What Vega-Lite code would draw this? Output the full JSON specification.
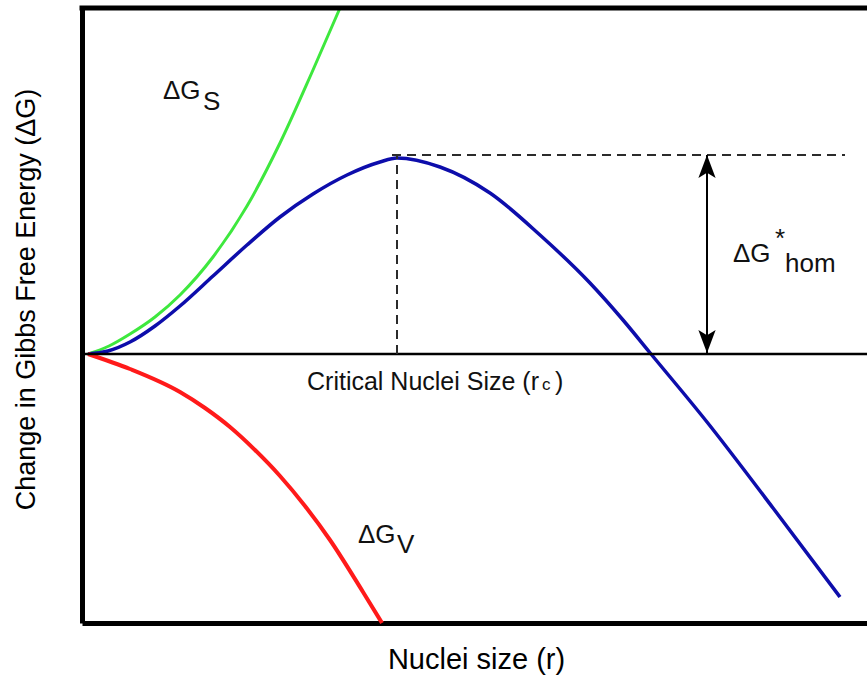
{
  "$schema": "https://vega.github.io/schema/vega-lite/v6.json",
  "width": 785,
  "height": 615,
  "autosize": {"type": "none"},
  "padding": {"left": 82, "top": 8, "right": 0, "bottom": 54},
  "background": "white",
  "config": {
    "view": {"stroke": null},
    "font": "Liberation Sans",
    "axis": {"grid": false, "ticks": false, "labels": false, "domain": true, "domainColor": "black", "domainWidth": 5, "titleFont": "Liberation Sans", "titleFontSize": 27, "titleFontWeight": "normal", "titleColor": "black", "titleAlign": "center", "titleBaseline": "alphabetic"},
    "axisX": {"titleX": 394, "titleY": 45, "titleFontSize": 29},
    "axisY": {"titleAngle": 270, "titleX": -48, "titleY": 291}
  },
  "datasets": {
    "curves": [
      {"curve": "surface", "r": 0, "G": 0},
      {"curve": "surface", "r": 21, "G": 8},
      {"curve": "surface", "r": 42, "G": 20},
      {"curve": "surface", "r": 67, "G": 37},
      {"curve": "surface", "r": 92, "G": 59},
      {"curve": "surface", "r": 125, "G": 97},
      {"curve": "surface", "r": 159, "G": 148},
      {"curve": "surface", "r": 192, "G": 211},
      {"curve": "surface", "r": 225, "G": 284},
      {"curve": "surface", "r": 252, "G": 346},
      {"curve": "total", "r": 0, "G": 0},
      {"curve": "total", "r": 20, "G": 3},
      {"curve": "total", "r": 42, "G": 12},
      {"curve": "total", "r": 67, "G": 28},
      {"curve": "total", "r": 92, "G": 48},
      {"curve": "total", "r": 125, "G": 78},
      {"curve": "total", "r": 159, "G": 109},
      {"curve": "total", "r": 192, "G": 137},
      {"curve": "total", "r": 225, "G": 160},
      {"curve": "total", "r": 259, "G": 179},
      {"curve": "total", "r": 292, "G": 192},
      {"curve": "total", "r": 309, "G": 196},
      {"curve": "total", "r": 352, "G": 187},
      {"curve": "total", "r": 402, "G": 161},
      {"curve": "total", "r": 452, "G": 119},
      {"curve": "total", "r": 502, "G": 71},
      {"curve": "total", "r": 535, "G": 34},
      {"curve": "total", "r": 563, "G": 0},
      {"curve": "total", "r": 619, "G": -68},
      {"curve": "total", "r": 685, "G": -154},
      {"curve": "total", "r": 752, "G": -243},
      {"curve": "volume", "r": 0, "G": 0},
      {"curve": "volume", "r": 42, "G": -15},
      {"curve": "volume", "r": 92, "G": -38},
      {"curve": "volume", "r": 117, "G": -54},
      {"curve": "volume", "r": 142, "G": -73},
      {"curve": "volume", "r": 167, "G": -96},
      {"curve": "volume", "r": 192, "G": -122},
      {"curve": "volume", "r": 217, "G": -152},
      {"curve": "volume", "r": 242, "G": -186},
      {"curve": "volume", "r": 275, "G": -238},
      {"curve": "volume", "r": 294, "G": -269}
    ],
    "dashes": [
      {"r": 309, "r2": 309, "G": 0, "G2": 199},
      {"r": 304, "r2": 757, "G": 199, "G2": 199}
    ],
    "arrow": [{"r": 619, "G": 1, "G2": 199}],
    "headUp": [{"r": 619, "G": 187.5}],
    "headDown": [{"r": 619, "G": 12.5}],
    "bigText": [
      {"label": "ΔG", "r": 75, "G": 255},
      {"label": "S", "r": 115, "G": 244},
      {"label": "ΔG", "r": 270, "G": -189},
      {"label": "V", "r": 309, "G": -199},
      {"label": "ΔG", "r": 645, "G": 92},
      {"label": "*", "r": 687, "G": 107},
      {"label": "hom", "r": 697, "G": 82}
    ],
    "critText": [
      {"label": "Critical Nuclei Size (r", "r": 219, "G": -36},
      {"label": ")", "r": 467, "G": -36}
    ],
    "subText": [{"label": "c", "r": 454, "G": -36}],
    "zero": [{"G": 0}],
    "top": [{"G": 346}]
  },
  "layer": [
    {
      "data": {"name": "curves"},
      "mark": {"type": "line", "interpolate": "monotone"},
      "encoding": {
        "x": {"field": "r", "type": "quantitative", "scale": {"domain": [-6, 779], "nice": false, "zero": false}, "axis": {"title": "Nuclei size (r)"}},
        "y": {"field": "G", "type": "quantitative", "scale": {"domain": [-269, 346], "nice": false, "zero": false}, "axis": {"title": "Change in Gibbs Free Energy (ΔG)"}},
        "color": {"field": "curve", "type": "nominal", "scale": {"domain": ["surface", "total", "volume"], "range": ["#3ee83e", "#0d0dab", "#ff1a1a"]}, "legend": null},
        "strokeWidth": {"field": "curve", "type": "nominal", "scale": {"domain": ["surface", "total", "volume"], "range": [3, 4, 3]}, "legend": null}
      }
    },
    {
      "data": {"name": "zero"},
      "mark": {"type": "rule", "color": "black", "strokeWidth": 2.5},
      "encoding": {
        "y": {"field": "G", "type": "quantitative", "scale": {"domain": [-269, 346], "nice": false, "zero": false}, "axis": {"title": "Change in Gibbs Free Energy (ΔG)"}}
      }
    },
    {
      "data": {"name": "top"},
      "mark": {"type": "rule", "color": "black", "strokeWidth": 5, "strokeCap": "square"},
      "encoding": {
        "y": {"field": "G", "type": "quantitative", "scale": {"domain": [-269, 346], "nice": false, "zero": false}, "axis": {"title": "Change in Gibbs Free Energy (ΔG)"}}
      }
    },
    {
      "data": {"name": "dashes"},
      "mark": {"type": "rule", "color": "#2b2b2b", "strokeWidth": 2, "strokeDash": [9, 6]},
      "encoding": {
        "x": {"field": "r", "type": "quantitative", "scale": {"domain": [-6, 779], "nice": false, "zero": false}, "axis": {"title": "Nuclei size (r)"}},
        "x2": {"field": "r2"},
        "y": {"field": "G", "type": "quantitative", "scale": {"domain": [-269, 346], "nice": false, "zero": false}, "axis": {"title": "Change in Gibbs Free Energy (ΔG)"}},
        "y2": {"field": "G2"}
      }
    },
    {
      "data": {"name": "arrow"},
      "mark": {"type": "rule", "color": "black", "strokeWidth": 2},
      "encoding": {
        "x": {"field": "r", "type": "quantitative", "scale": {"domain": [-6, 779], "nice": false, "zero": false}, "axis": {"title": "Nuclei size (r)"}},
        "y": {"field": "G", "type": "quantitative", "scale": {"domain": [-269, 346], "nice": false, "zero": false}, "axis": {"title": "Change in Gibbs Free Energy (ΔG)"}},
        "y2": {"field": "G2"}
      }
    },
    {
      "data": {"name": "headUp"},
      "mark": {"type": "point", "filled": true, "color": "black", "opacity": 1, "size": 529, "strokeWidth": 0, "shape": "M0,-1L0.75,1L0,0.55L-0.75,1Z"},
      "encoding": {
        "x": {"field": "r", "type": "quantitative", "scale": {"domain": [-6, 779], "nice": false, "zero": false}, "axis": {"title": "Nuclei size (r)"}},
        "y": {"field": "G", "type": "quantitative", "scale": {"domain": [-269, 346], "nice": false, "zero": false}, "axis": {"title": "Change in Gibbs Free Energy (ΔG)"}}
      }
    },
    {
      "data": {"name": "headDown"},
      "mark": {"type": "point", "filled": true, "color": "black", "opacity": 1, "size": 529, "strokeWidth": 0, "shape": "M0,1L0.75,-1L0,-0.55L-0.75,-1Z"},
      "encoding": {
        "x": {"field": "r", "type": "quantitative", "scale": {"domain": [-6, 779], "nice": false, "zero": false}, "axis": {"title": "Nuclei size (r)"}},
        "y": {"field": "G", "type": "quantitative", "scale": {"domain": [-269, 346], "nice": false, "zero": false}, "axis": {"title": "Change in Gibbs Free Energy (ΔG)"}}
      }
    },
    {
      "data": {"name": "bigText"},
      "mark": {"type": "text", "font": "Liberation Sans", "fontSize": 26, "color": "#111", "align": "left", "baseline": "alphabetic"},
      "encoding": {
        "x": {"field": "r", "type": "quantitative", "scale": {"domain": [-6, 779], "nice": false, "zero": false}, "axis": {"title": "Nuclei size (r)"}},
        "y": {"field": "G", "type": "quantitative", "scale": {"domain": [-269, 346], "nice": false, "zero": false}, "axis": {"title": "Change in Gibbs Free Energy (ΔG)"}},
        "text": {"field": "label"}
      }
    },
    {
      "data": {"name": "critText"},
      "mark": {"type": "text", "font": "Liberation Sans", "fontSize": 25, "color": "#111", "align": "left", "baseline": "alphabetic"},
      "encoding": {
        "x": {"field": "r", "type": "quantitative", "scale": {"domain": [-6, 779], "nice": false, "zero": false}, "axis": {"title": "Nuclei size (r)"}},
        "y": {"field": "G", "type": "quantitative", "scale": {"domain": [-269, 346], "nice": false, "zero": false}, "axis": {"title": "Change in Gibbs Free Energy (ΔG)"}},
        "text": {"field": "label"}
      }
    },
    {
      "data": {"name": "subText"},
      "mark": {"type": "text", "font": "Liberation Sans", "fontSize": 17, "color": "#111", "align": "left", "baseline": "alphabetic"},
      "encoding": {
        "x": {"field": "r", "type": "quantitative", "scale": {"domain": [-6, 779], "nice": false, "zero": false}, "axis": {"title": "Nuclei size (r)"}},
        "y": {"field": "G", "type": "quantitative", "scale": {"domain": [-269, 346], "nice": false, "zero": false}, "axis": {"title": "Change in Gibbs Free Energy (ΔG)"}},
        "text": {"field": "label"}
      }
    }
  ]
}
